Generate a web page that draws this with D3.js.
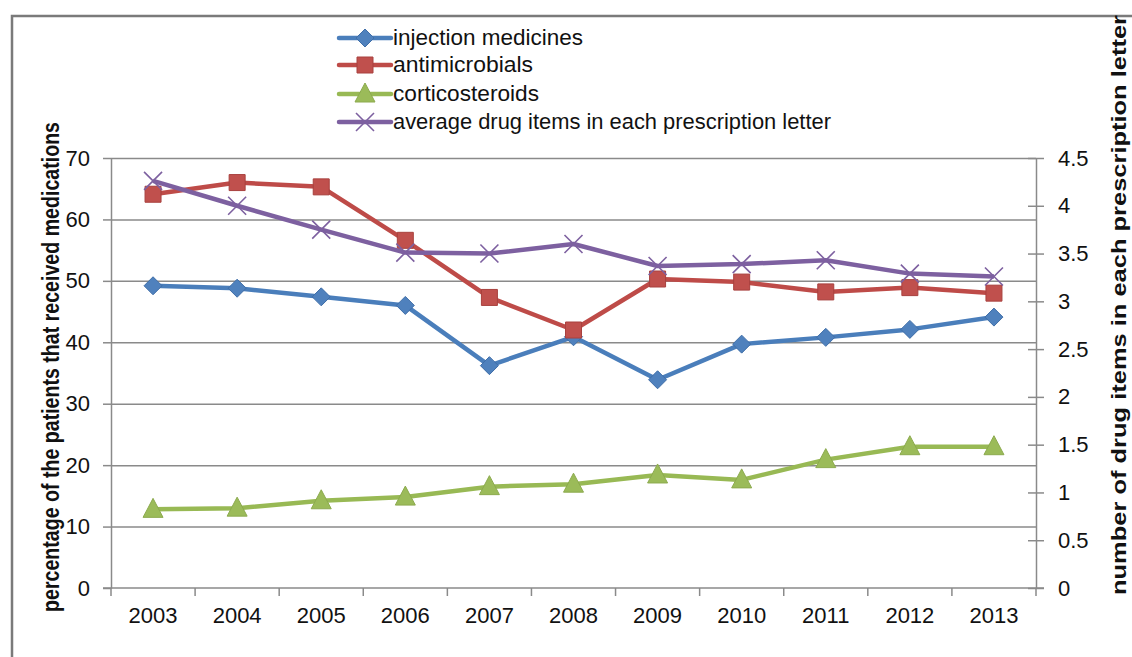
<!DOCTYPE html>
<html>
<head>
<meta charset="utf-8">
<script src="https://cdn.jsdelivr.net/npm/d3@7"></script>
<style>
  body { margin: 0; background: #fff; }
  svg { display: block; font-family: "Liberation Sans", Arial, sans-serif; }
</style>
</head>
<body>
<svg id="chart" width="1132" height="657"></svg>
<script>
// data
const years = ["2003","2004","2005","2006","2007","2008","2009","2010","2011","2012","2013"];
const injection = [49.2, 48.8, 47.4, 46.0, 36.2, 40.9, 33.9, 39.7, 40.8, 42.1, 44.1];
const antimicrobials = [64.1, 66.0, 65.3, 56.6, 47.3, 42.0, 50.3, 49.8, 48.2, 48.9, 48.0];
const corticosteroids = [12.8, 13.0, 14.2, 14.8, 16.5, 16.9, 18.4, 17.6, 20.9, 23.0, 23.0];
const avgItems = [4.26, 4.0, 3.75, 3.51, 3.50, 3.60, 3.37, 3.39, 3.43, 3.29, 3.26];
const leftTicks = [0, 10, 20, 30, 40, 50, 60, 70];
const rightTicks = [0, 0.5, 1, 1.5, 2, 2.5, 3, 3.5, 4, 4.5];
const seriesNames = ["injection medicines", "antimicrobials", "corticosteroids", "average drug items in each prescription letter"];

const svg = d3.select("#chart");
const margin = { left: 111, right: 96, top: 158, bottom: 69 };
const W = 1132, H = 657;
const gridColor = "#8a8a8a";
const tickFont = 22;

// outer frame (cut off at right and bottom)
svg.append("rect")
  .attr("x", 12).attr("y", 16)
  .attr("width", 1200).attr("height", 700)
  .attr("fill", "none").attr("stroke", "#7a7a7a").attr("stroke-width", 2.5);

const x = d3.scaleBand().domain(years).range([margin.left, W - margin.right]).padding(0);
const yL = d3.scaleLinear().domain([0, 70]).range([H - margin.bottom, margin.top]);
const yR = d3.scaleLinear().domain([0, 4.5]).range([H - margin.bottom, margin.top]);
const cx = d => x(d) + x.bandwidth() / 2;

// horizontal gridlines
svg.append("g")
  .attr("transform", `translate(${margin.left},0)`)
  .call(d3.axisLeft(yL).tickValues(leftTicks.slice(1)).tickSize(-(W - margin.right - margin.left)).tickFormat(""))
  .call(g => g.select(".domain").remove())
  .call(g => g.selectAll("line").attr("stroke", gridColor).attr("stroke-width", 1.5));

// left axis
svg.append("g")
  .attr("transform", `translate(${margin.left},0)`)
  .call(d3.axisLeft(yL).tickValues(leftTicks).tickSize(8).tickSizeOuter(0).tickPadding(13))
  .call(g => g.select(".domain").attr("stroke", gridColor).attr("stroke-width", 1.5))
  .call(g => g.selectAll("line").attr("stroke", gridColor).attr("stroke-width", 1.5))
  .call(g => g.selectAll("text").attr("font-size", tickFont).attr("fill", "#111").attr("font-family", "Liberation Sans, Arial, sans-serif"));

// right axis, ticks cross the line
svg.append("g")
  .attr("transform", `translate(${W - margin.right},0)`)
  .call(d3.axisRight(yR).tickValues(rightTicks).tickSize(8).tickSizeOuter(0).tickPadding(14).tickFormat(d3.format("")))
  .call(g => g.select(".domain").attr("stroke", gridColor).attr("stroke-width", 1.5))
  .call(g => g.selectAll("line").attr("x1", -8).attr("stroke", gridColor).attr("stroke-width", 1.5))
  .call(g => g.selectAll("text").attr("font-size", tickFont).attr("fill", "#111").attr("font-family", "Liberation Sans, Arial, sans-serif"));

// bottom axis: labels centered in bands, ticks on band edges
const xAxisG = svg.append("g").attr("transform", `translate(0,${H - margin.bottom})`);
xAxisG.call(d3.axisBottom(x).tickSize(0).tickPadding(19))
  .call(g => g.select(".domain").remove())
  .call(g => g.selectAll("text").attr("font-size", tickFont).attr("fill", "#111").attr("font-family", "Liberation Sans, Arial, sans-serif"));
xAxisG.append("line")
  .attr("x1", margin.left - 8).attr("x2", W - margin.right + 8)
  .attr("stroke", gridColor).attr("stroke-width", 1.5);
xAxisG.selectAll("line.edge")
  .data(years.map(d => x(d)).concat([x.range()[1]]))
  .join("line").attr("class", "edge")
  .attr("x1", d => d).attr("x2", d => d).attr("y1", 0).attr("y2", 8)
  .attr("stroke", gridColor).attr("stroke-width", 1.5);

// marker shapes
function marker(kind) {
  if (kind === "diamond") return "M0,-9L9,0L0,9L-9,0Z";
  if (kind === "square") return "M-8,-8H8V8H-8Z";
  if (kind === "triangle") return "M0,-11L10,8H-10Z";
  return "M-9,-9L9,9M-9,9L9,-9";
}

const series = [
  { name: seriesNames[0], values: injection, y: yL, line: "#4A7EBB", fill: "#4F81BD", stroke: "#3F6EA8", kind: "diamond" },
  { name: seriesNames[1], values: antimicrobials, y: yL, line: "#BE4B48", fill: "#C0504D", stroke: "#A8413E", kind: "square" },
  { name: seriesNames[2], values: corticosteroids, y: yL, line: "#98B954", fill: "#9BBB59", stroke: "#8CAA4E", kind: "triangle" },
  { name: seriesNames[3], values: avgItems, y: yR, line: "#7D60A0", fill: "none", stroke: "#7D60A0", kind: "x" }
];

series.forEach(s => {
  const pts = years.map((yr, i) => [cx(yr), s.y(s.values[i])]);
  svg.append("path")
    .attr("d", d3.line()(pts))
    .attr("fill", "none").attr("stroke", s.line).attr("stroke-width", 4.5)
    .attr("stroke-linejoin", "round");
  svg.append("g").selectAll("path")
    .data(pts).join("path")
    .attr("transform", d => `translate(${d[0]},${d[1]})`)
    .attr("d", marker(s.kind))
    .attr("fill", s.fill)
    .attr("stroke", s.stroke)
    .attr("stroke-width", s.kind === "x" ? 1.6 : 1);
});

// legend
const legendLen = [190, 140, 146, 438];
const legendY = [38, 65, 94, 122];
const legend = svg.append("g");
series.forEach((s, i) => {
  const g = legend.append("g").attr("transform", `translate(339,${legendY[i]})`);
  g.append("line").attr("x1", 0).attr("x2", 52)
    .attr("stroke", s.line).attr("stroke-width", 4.5).attr("stroke-linecap", "round");
  g.append("path").attr("transform", "translate(26,0)")
    .attr("d", marker(s.kind)).attr("fill", s.fill).attr("stroke", s.stroke)
    .attr("stroke-width", s.kind === "x" ? 1.6 : 1);
  g.append("text").attr("x", 54).attr("y", 7)
    .attr("font-size", 22).attr("fill", "#111")
    .attr("textLength", legendLen[i]).attr("lengthAdjust", "spacingAndGlyphs")
    .text(s.name);
});

// axis titles
svg.append("text")
  .attr("transform", "translate(59,367) rotate(-90)")
  .attr("text-anchor", "middle")
  .attr("font-size", 23).attr("font-weight", "bold").attr("fill", "#111")
  .attr("textLength", 490).attr("lengthAdjust", "spacingAndGlyphs")
  .text("percentage of the patients that received medications");

svg.append("text")
  .attr("transform", "translate(1126,305) rotate(-90)")
  .attr("text-anchor", "middle")
  .attr("font-size", 21).attr("font-weight", "bold").attr("fill", "#111")
  .attr("textLength", 580).attr("lengthAdjust", "spacingAndGlyphs")
  .text("number of drug items in each prescription letter");
</script>
</body>
</html>
